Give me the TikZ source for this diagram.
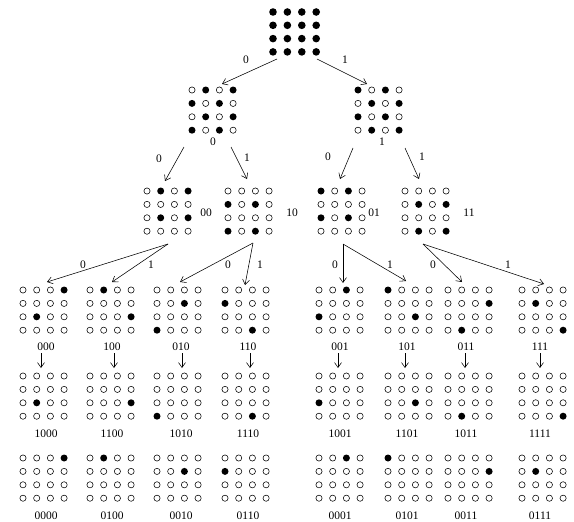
\documentclass[tikz,border=0pt]{standalone}
\usepackage{fontspec}
\setmainfont{Liberation Serif}
\usetikzlibrary{arrows.meta}
\tikzset{
  od/.style={draw=black, line width=0.55pt, fill=white},
  fd/.style={fill=black},
  arr/.style={-{Straight Barb[length=5pt,width=7pt]}, line width=0.55pt},
  lab/.style={font=\fontsize{11.5}{13}\selectfont, inner sep=0pt},
  gridbox/.style={inner sep=0pt, minimum width=46pt, minimum height=46pt},
}
\def\gsx{13.7}
\def\gsy{13.4}
\def\grad{3.5pt}
% name, x, y, pattern
\newcommand\dotgrid[4]{%
  \foreach \v [count=\i from 0] in {#4} {
    \pgfmathtruncatemacro\rr{floor(\i/4)}
    \pgfmathtruncatemacro\cc{mod(\i,4)}
    \ifnum\v=1\relax
      \fill[fd] (#2+\cc*\gsx, #3+\rr*\gsy) circle (\grad);
    \else
      \draw[od] (#2+\cc*\gsx, #3+\rr*\gsy) circle (3.1pt);
    \fi
  }
  \node[gridbox] (#1) at (#2+1.5*\gsx, #3+1.5*\gsy) {};
}
\begin{document}
\begin{tikzpicture}[x=1pt,y=-1pt]
\useasboundingbox (0,0) rectangle (574,522);

% top
\begingroup
\def\gsx{14.4}\def\gsy{13.3}\def\grad{3.8pt}
\dotgrid{gt}{273}{12}{1,1,1,1,1,1,1,1,1,1,1,1,1,1,1,1}
\endgroup

% level 1
\dotgrid{g0}{192}{90}{0,1,0,1,1,0,1,0,0,1,0,1,1,0,1,0}
\dotgrid{g1}{358}{90}{1,0,1,0,0,1,0,1,1,0,1,0,0,1,0,1}
\node[lab] (l0) at (213,142) {0};
\node[lab] (l1) at (382,142) {1};

% level 2
\dotgrid{g00}{147}{191}{0,1,0,1,0,0,0,0,0,1,0,1,0,0,0,0}
\dotgrid{g10}{228}{191}{0,0,0,0,1,0,1,0,0,0,0,0,1,0,1,0}
\dotgrid{g01}{321}{191}{1,0,1,0,0,0,0,0,1,0,1,0,0,0,0,0}
\dotgrid{g11}{405}{191}{0,0,0,0,0,1,0,1,0,0,0,0,0,1,0,1}
\node[lab] (l00) at (206,213) {00};
\node[lab] (l10) at (292,213) {10};
\node[lab] (l01) at (374,213) {01};
\node[lab] (l11) at (469,213) {11};

% level 3
\dotgrid{g000}{23}{290}{0,0,0,1,0,0,0,0,0,1,0,0,0,0,0,0}
\dotgrid{g100}{90}{290}{0,1,0,0,0,0,0,0,0,0,0,1,0,0,0,0}
\dotgrid{g010}{157}{290}{0,0,0,0,0,0,1,0,0,0,0,0,1,0,0,0}
\dotgrid{g110}{225}{290}{0,0,0,0,1,0,0,0,0,0,0,0,0,0,1,0}
\dotgrid{g001}{319}{290}{0,0,1,0,0,0,0,0,1,0,0,0,0,0,0,0}
\dotgrid{g101}{388}{290}{1,0,0,0,0,0,0,0,0,0,1,0,0,0,0,0}
\dotgrid{g011}{448}{290}{0,0,0,0,0,0,0,1,0,0,0,0,0,1,0,0}
\dotgrid{g111}{522}{290}{0,0,0,0,0,1,0,0,0,0,0,0,0,0,0,1}
\node[lab] (l000) at (46,347) {000};
\node[lab] (l100) at (112,347) {100};
\node[lab] (l010) at (181,347) {010};
\node[lab] (l110) at (248,347) {110};
\node[lab] (l001) at (340,347) {001};
\node[lab] (l101) at (407,347) {101};
\node[lab] (l011) at (466,347) {011};
\node[lab] (l111) at (540,347) {111};

% level 4
\dotgrid{g1000}{23}{376}{0,0,0,0,0,0,0,0,0,1,0,0,0,0,0,0}
\dotgrid{g1100}{90}{376}{0,0,0,0,0,0,0,0,0,0,0,1,0,0,0,0}
\dotgrid{g1010}{157}{376}{0,0,0,0,0,0,0,0,0,0,0,0,1,0,0,0}
\dotgrid{g1110}{225}{376}{0,0,0,0,0,0,0,0,0,0,0,0,0,0,1,0}
\dotgrid{g1001}{319}{376}{0,0,0,0,0,0,0,0,1,0,0,0,0,0,0,0}
\dotgrid{g1101}{388}{376}{0,0,0,0,0,0,0,0,0,0,1,0,0,0,0,0}
\dotgrid{g1011}{448}{376}{0,0,0,0,0,0,0,0,0,0,0,0,0,1,0,0}
\dotgrid{g1111}{522}{376}{0,0,0,0,0,0,0,0,0,0,0,0,0,0,0,1}
\node[lab] (l1000) at (46,434) {1000};
\node[lab] (l1100) at (112,434) {1100};
\node[lab] (l1010) at (181,434) {1010};
\node[lab] (l1110) at (248,434) {1110};
\node[lab] (l1001) at (340,434) {1001};
\node[lab] (l1101) at (407,434) {1101};
\node[lab] (l1011) at (466,434) {1011};
\node[lab] (l1111) at (540,434) {1111};

% level 5
\dotgrid{g0000}{23}{458}{0,0,0,1,0,0,0,0,0,0,0,0,0,0,0,0}
\dotgrid{g0100}{90}{458}{0,1,0,0,0,0,0,0,0,0,0,0,0,0,0,0}
\dotgrid{g0010}{157}{458}{0,0,0,0,0,0,1,0,0,0,0,0,0,0,0,0}
\dotgrid{g0110}{225}{458}{0,0,0,0,1,0,0,0,0,0,0,0,0,0,0,0}
\dotgrid{g0001}{319}{458}{0,0,1,0,0,0,0,0,0,0,0,0,0,0,0,0}
\dotgrid{g0101}{388}{458}{1,0,0,0,0,0,0,0,0,0,0,0,0,0,0,0}
\dotgrid{g0011}{448}{458}{0,0,0,0,0,0,0,1,0,0,0,0,0,0,0,0}
\dotgrid{g0111}{522}{458}{0,0,0,0,0,1,0,0,0,0,0,0,0,0,0,0}
\node[lab] (l0000) at (46,516) {0000};
\node[lab] (l0100) at (112,516) {0100};
\node[lab] (l0010) at (181,516) {0010};
\node[lab] (l0110) at (248,516) {0110};
\node[lab] (l0001) at (340,516) {0001};
\node[lab] (l0101) at (407,516) {0101};
\node[lab] (l0011) at (466,516) {0011};
\node[lab] (l0111) at (540,516) {0111};

% arrow end points
\coordinate (ta) at (277,59);  \coordinate (tb) at (317,59);
\coordinate (e0) at (222,84);  \coordinate (e1) at (367,84);
\coordinate (s0a) at (184,147); \coordinate (s0b) at (231,147);
\coordinate (s1a) at (353,148); \coordinate (s1b) at (405,148);
\coordinate (e00) at (165,181); \coordinate (e10) at (247,179);
\coordinate (e01) at (340,179); \coordinate (e11) at (419,179);
\coordinate (s00) at (168,244); \coordinate (s10) at (253,243);
\coordinate (s01) at (343,244); \coordinate (s11) at (423,244);
\coordinate (e000) at (47,282);  \coordinate (e100) at (112,282);
\coordinate (e010) at (180,282); \coordinate (e110) at (245,285);
\coordinate (e001) at (343,283); \coordinate (e101) at (406,281);
\coordinate (e011) at (462,282); \coordinate (e111) at (544,284);

\draw[arr] (ta) -- (e0);
\draw[arr] (tb) -- (e1);
\node[lab] at (246,60) {0};
\node[lab] at (345,60) {1};

\draw[arr] (s0a) -- (e00);
\draw[arr] (s0b) -- (e10);
\draw[arr] (s1a) -- (e01);
\draw[arr] (s1b) -- (e11);
\node[lab] at (159,159) {0};
\node[lab] at (247,158) {1};
\node[lab] at (328,157) {0};
\node[lab] at (422,157) {1};

\draw[arr] (s00) -- (e000);
\draw[arr] (s00) -- (e100);
\draw[arr] (s10) -- (e010);
\draw[arr] (s10) -- (e110);
\draw[arr] (s01) -- (e001);
\draw[arr] (s01) -- (e101);
\draw[arr] (s11) -- (e011);
\draw[arr] (s11) -- (e111);
\node[lab] at (83,265) {0};
\node[lab] at (151,265) {1};
\node[lab] at (228,265) {0};
\node[lab] at (260,265) {1};
\node[lab] at (335,265) {0};
\node[lab] at (390,265) {1};
\node[lab] at (433,265) {0};
\node[lab] at (508,265) {1};

% level 3 -> level 4
\foreach \x [count=\k] in {41,114,182,250,338,405,465,540} {
  \coordinate (va\k) at (\x,353);
  \coordinate (vb\k) at (\x,368);
  \draw[arr] (va\k) -- (vb\k);
}
\end{tikzpicture}
\end{document}
